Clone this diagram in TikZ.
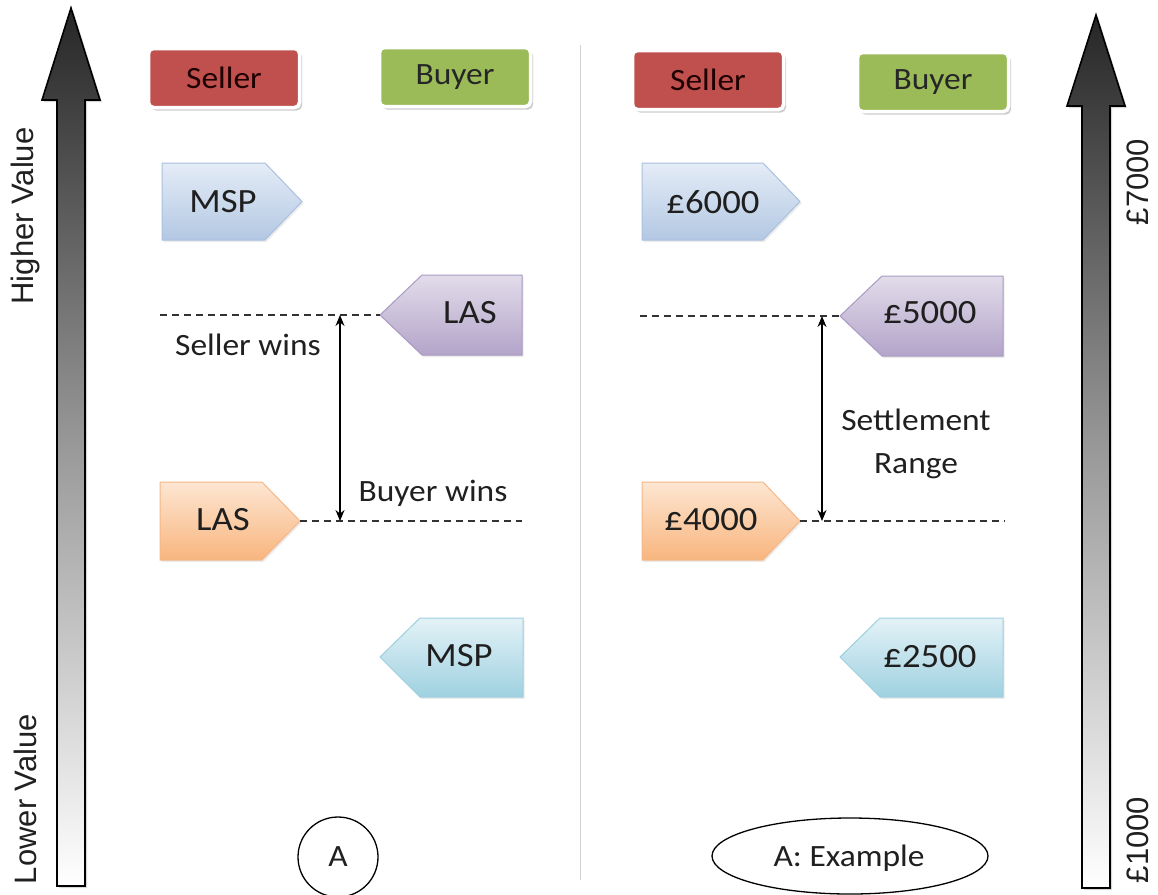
\documentclass[tikz,border=0pt]{standalone}
\usepackage{fontspec}
\setmainfont{Carlito}[FakeStretch=1.08]
\newfontfamily\sidefont{Liberation Sans}
\usetikzlibrary{arrows.meta,shadows}
\definecolor{sellerred}{HTML}{C0504D}
\definecolor{buyergreen}{HTML}{9BBB59}
\definecolor{txt}{HTML}{202020}
\definecolor{blueL}{HTML}{E4ECF6}
\definecolor{blueD}{HTML}{B3C8E3}
\definecolor{blueB}{HTML}{A9C1DF}
\definecolor{purpL}{HTML}{E2DCEA}
\definecolor{purpD}{HTML}{B3A4C9}
\definecolor{purpB}{HTML}{A99AC3}
\definecolor{oranL}{HTML}{FDE6D2}
\definecolor{oranD}{HTML}{F8B57E}
\definecolor{oranB}{HTML}{F5B787}
\definecolor{tealL}{HTML}{E3F2F7}
\definecolor{tealD}{HTML}{9FD1E0}
\definecolor{tealB}{HTML}{9DD0DF}
\begin{document}
\begin{tikzpicture}[x=1pt,y=-1pt,
  lbl/.style={text=txt, font=\fontsize{31}{33}\selectfont, inner sep=0pt},
  ptext/.style={text=black!88, font=\fontsize{34}{36}\selectfont, inner sep=0pt},
  sidelbl/.style={text=txt, font=\sidefont\fontsize{31}{33}\selectfont, rotate=90, inner sep=0pt},
  pricelbl/.style={sidelbl, font=\sidefont\fontsize{31}{33}\selectfont},
  rolebox/.style={rounded corners=5pt, minimum width=151, minimum height=59, draw=white, line width=3.5pt,
     drop shadow={shadow xshift=2.5pt, shadow yshift=-3pt, opacity=0.4}, font=\fontsize{31}{33}\selectfont},
  bigarrow/.style={draw=black, line width=1.6pt, top color=black!85, bottom color=white, middle color=black!40,
     drop shadow={shadow xshift=2pt, shadow yshift=-2pt, opacity=0.3}},
  pent/.style={line width=1pt, drop shadow={shadow xshift=1.5pt, shadow yshift=-2pt, opacity=0.15}},
  pblue/.style={pent, draw=blueB, top color=blueL, bottom color=blueD},
  ppurp/.style={pent, draw=purpB, top color=purpL, bottom color=purpD},
  poran/.style={pent, draw=oranB, top color=oranL, bottom color=oranD},
  pteal/.style={pent, draw=tealB, top color=tealL, bottom color=tealD},
  dline/.style={dash pattern=on 7pt off 5pt, line width=1.2pt, draw=black!80},
  darrow/.style={{Stealth[length=11pt,width=9pt]}-{Stealth[length=11pt,width=9pt]}, line width=1.1pt},
]
\useasboundingbox[fill=white] (0,0) rectangle (1158,894);

% big arrows
\path[bigarrow] (57,886) -- (57,100) -- (42,100) -- (71,8) -- (100,100) -- (85,100) -- (85,886) -- cycle;
\path[bigarrow] (1082,888) -- (1082,106) -- (1067,106) -- (1096,15) -- (1125,106) -- (1110,106) -- (1110,888) -- cycle;

\node[sidelbl] (hv) at (25,216) {Higher Value};
\node[sidelbl] (lv) at (25,799) {Lower Value};
\node[pricelbl] (p7) at (1138,182) {£7000};
\node[pricelbl] (p1) at (1138,840) {£1000};

% divider
\draw[black!18, line width=1pt] (580,45) -- (580,880);

% role boxes
\node[rolebox, fill=sellerred, text=black!80!red!60!black] (sellL) at (224,78) {Seller};
\node[rolebox, fill=buyergreen, text=black!85] (buyL) at (455,77) {Buyer};
\node[rolebox, fill=sellerred, text=black!80!red!60!black] (sellR) at (708,80) {Seller};
\node[rolebox, fill=buyergreen, text=black!85] (buyR) at (933,82) {Buyer};

% left panel pentagons
\path[pblue] (162,163) -- (265,163) -- (302,201.5) -- (265,240) -- (162,240) -- cycle;
\node[ptext] (mspS) at (223,202) {MSP};
\path[ppurp] (380,315) -- (422,275) -- (522,275) -- (522,355) -- (422,355) -- cycle;
\coordinate (lasBtip) at (380,315);
\node[ptext] (lasB) at (470,313) {LAS};
\path[poran] (160,482) -- (262,482) -- (300,521) -- (262,560) -- (160,560) -- cycle;
\coordinate (lasStip) at (300,521);
\node[ptext] (lasS) at (223,520) {LAS};
\path[pteal] (380,657) -- (420,618) -- (523,618) -- (523,697) -- (420,697) -- cycle;
\node[ptext] (mspB) at (459,656) {MSP};

% right panel pentagons
\path[pblue] (642,163) -- (763,163) -- (800,201.5) -- (763,240) -- (642,240) -- cycle;
\node[ptext] (p6000) at (713,202) {£6000};
\path[ppurp] (840,316) -- (882,276) -- (1003,276) -- (1003,356) -- (882,356) -- cycle;
\coordinate (p5000tip) at (840,316);
\node[ptext] (p5000) at (930,313) {£5000};
\path[poran] (642,482) -- (763,482) -- (800,521) -- (763,560) -- (642,560) -- cycle;
\coordinate (p4000tip) at (800,521);
\node[ptext] (p4000) at (711,520) {£4000};
\path[pteal] (840,657) -- (880,618) -- (1003,618) -- (1003,697) -- (880,697) -- cycle;
\node[ptext] (p2500) at (930,657) {£2500};

% dashed lines
\coordinate (lUpEnd) at (160,315);
\coordinate (lLoEnd) at (522,521);
\coordinate (rUpEnd) at (640,316);
\coordinate (rLoEnd) at (1005,521);
\draw[dline] (lUpEnd) -- (lasBtip);
\draw[dline] (lasStip) -- (lLoEnd);
\draw[dline] (rUpEnd) -- (p5000tip);
\draw[dline] (p4000tip) -- (rLoEnd);

% double arrows
\coordinate (la1) at (340,315);
\coordinate (la2) at (340,521);
\coordinate (ra1) at (822,316);
\coordinate (ra2) at (822,521);
\draw[darrow] (la1) -- (la2);
\draw[darrow] (ra1) -- (ra2);

\node[lbl] (sw) at (248,345) {Seller wins};
\node[lbl] (bw) at (433,493) {Buyer wins};
\node[lbl] (set) at (916,420) {Settlement};
\node[lbl] (rng) at (916,466) {Range};

% bottom labels
\node[draw=black, line width=1.3pt, circle, minimum size=80, lbl] (circA) at (338,857) {A};
\draw[line width=1.3pt] (850,856) ellipse [x radius=138, y radius=38];
\node[lbl] (ex) at (849,858) {A: Example};
\end{tikzpicture}
\end{document}
